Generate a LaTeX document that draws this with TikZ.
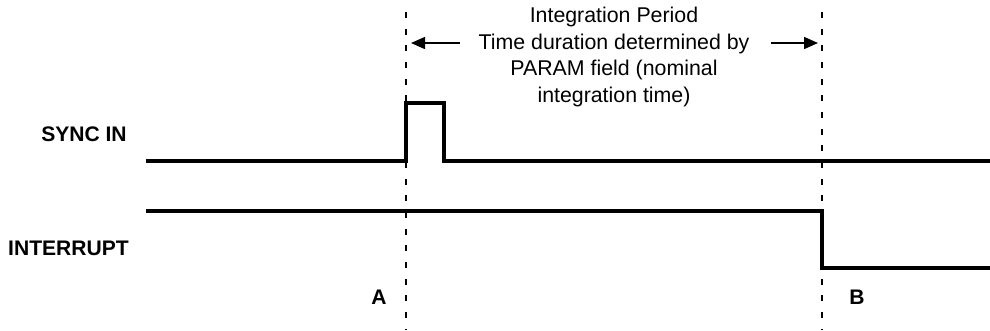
\documentclass[tikz,border=0pt]{standalone}
\usepackage{fontspec}
\setmainfont{Liberation Sans}
\usetikzlibrary{arrows.meta}
\tikzset{
  sig/.style={line width=2.4pt, line join=miter},
  guide/.style={line width=0.8pt, dash pattern=on 4.5pt off 8pt},
  lbl/.style={font=\fontsize{15.8pt}{18pt}\selectfont\bfseries, inner sep=0pt},
  note/.style={font=\fontsize{16pt}{20.2pt}\selectfont, align=center, inner sep=0pt},
  dimarrow/.style={line width=1.1pt, -{Triangle[length=10.5pt,width=9pt]}}
}
\begin{document}
\begin{tikzpicture}[x=0.75pt,y=-0.75pt]
\useasboundingbox (0,0) rectangle (990,330);
% guides
\coordinate (gAt) at (406,12);
\coordinate (gAb) at (406,330);
\coordinate (gBt) at (822,12);
\coordinate (gBb) at (822,330);
\draw[guide] (gAt) -- (gAb);
\draw[guide] (gBt) -- (gBb);
% SYNC IN waveform
\coordinate (s0) at (146,161);
\coordinate (s1) at (406,161);
\coordinate (s2) at (406,103);
\coordinate (s3) at (444,103);
\coordinate (s4) at (444,161);
\coordinate (s5) at (990,161);
\draw[sig] (s0) -- (s1) -- (s2) -- (s3) -- (s4) -- (s5);
% INTERRUPT waveform
\coordinate (i0) at (146,211);
\coordinate (i1) at (822,211);
\coordinate (i2) at (822,268);
\coordinate (i3) at (990,268);
\draw[sig] (i0) -- (i1) -- (i2) -- (i3);
% labels
\node[lbl, anchor=east] (sync) at (127,134) {SYNC IN};
\node[lbl, anchor=east] (intr) at (129,248) {INTERRUPT};
\node[lbl] (A) at (379,297) {A};
\node[lbl] (B) at (857,297) {B};
% note
\node[note] (note) at (614,57) {Integration Period\\Time duration determined by\\PARAM field (nominal\\integration time)};
\coordinate (la) at (460,43);
\coordinate (lt) at (411,43);
\coordinate (ra) at (771,43);
\coordinate (rt) at (818,43);
\draw[dimarrow] (la) -- (lt);
\draw[dimarrow] (ra) -- (rt);
\end{tikzpicture}
\end{document}
